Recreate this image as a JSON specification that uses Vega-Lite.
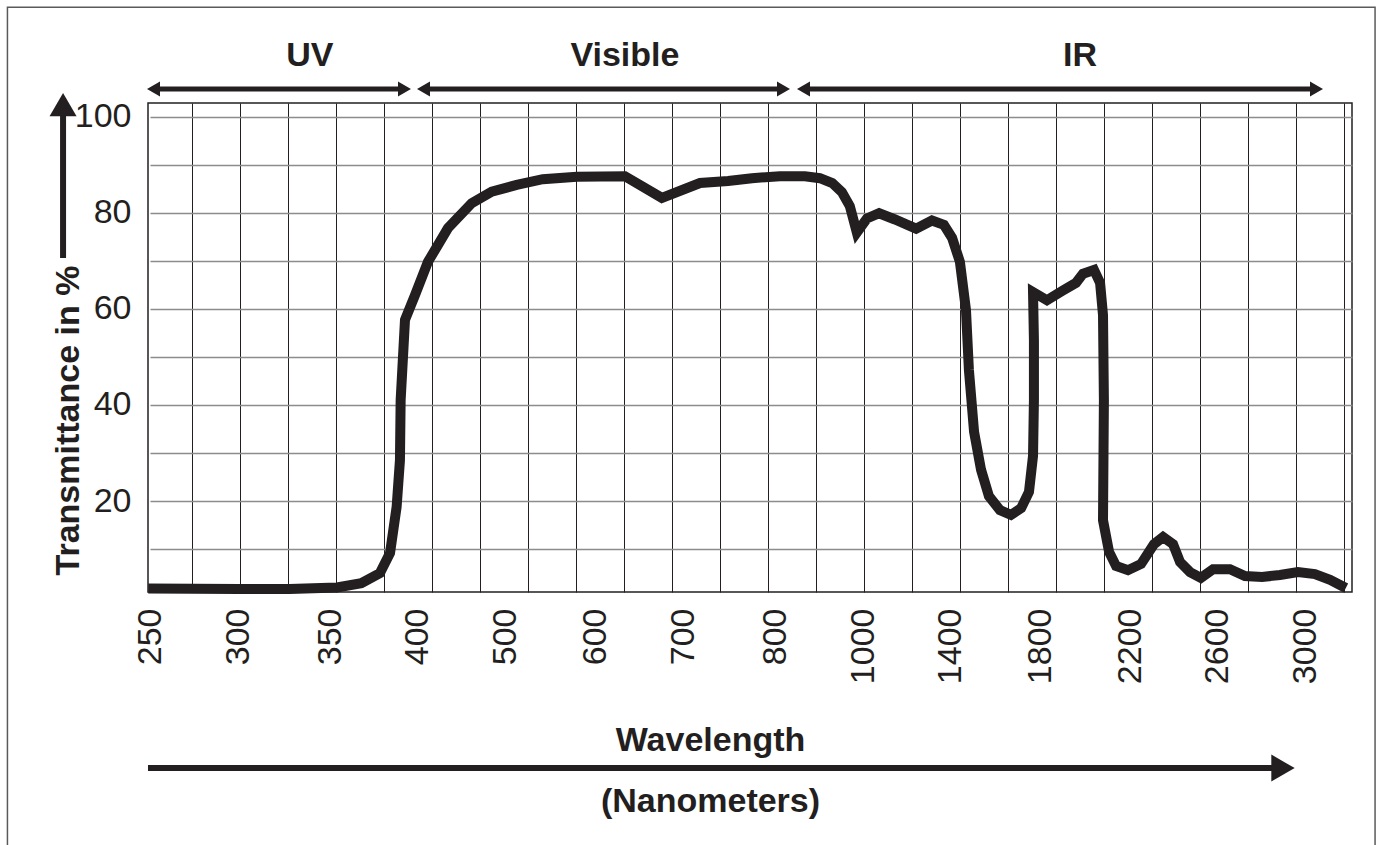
{
  "$schema": "https://vega.github.io/schema/vega-lite/v6.json",
  "width": 1204,
  "height": 489,
  "autosize": {"type": "none"},
  "padding": {"left": 148, "top": 103, "right": 30, "bottom": 253},
  "background": "white",
  "config": {
    "view": {"stroke": "#231f20", "strokeWidth": 1.5},
    "font": "Liberation Sans, Arial, sans-serif",
    "axis": {
      "labelFont": "Liberation Sans, Arial, sans-serif",
      "titleFont": "Liberation Sans, Arial, sans-serif",
      "labelColor": "#231f20",
      "titleColor": "#231f20"
    },
    "text": {"font": "Liberation Sans, Arial, sans-serif"}
  },
  "datasets": {
    "spectrum": [
      {"seq": 1, "wl": 249, "t": 1.8}, {"seq": 2, "wl": 301, "t": 1.7}, {"seq": 3, "wl": 328, "t": 1.7},
      {"seq": 4, "wl": 354, "t": 2.0}, {"seq": 5, "wl": 368, "t": 2.9}, {"seq": 6, "wl": 378.7, "t": 5.0},
      {"seq": 7, "wl": 384.5, "t": 9.2}, {"seq": 8, "wl": 388.3, "t": 18.8}, {"seq": 9, "wl": 390.2, "t": 28.5},
      {"seq": 10, "wl": 390.6, "t": 41.0}, {"seq": 11, "wl": 393.1, "t": 57.7}, {"seq": 12, "wl": 398.9, "t": 62.9},
      {"seq": 13, "wl": 412.5, "t": 69.8}, {"seq": 14, "wl": 435.2, "t": 76.8}, {"seq": 15, "wl": 462.2, "t": 82.0},
      {"seq": 16, "wl": 484.9, "t": 84.4}, {"seq": 17, "wl": 513, "t": 85.8}, {"seq": 18, "wl": 542, "t": 87.0},
      {"seq": 19, "wl": 580, "t": 87.5}, {"seq": 20, "wl": 634, "t": 87.6}, {"seq": 21, "wl": 676, "t": 83.1},
      {"seq": 22, "wl": 718.5, "t": 86.2}, {"seq": 23, "wl": 749, "t": 86.6}, {"seq": 24, "wl": 775, "t": 87.2},
      {"seq": 25, "wl": 811, "t": 87.6}, {"seq": 26, "wl": 868, "t": 87.6}, {"seq": 27, "wl": 902, "t": 87.2},
      {"seq": 28, "wl": 930, "t": 86.2}, {"seq": 29, "wl": 952, "t": 84.3}, {"seq": 30, "wl": 970, "t": 81.4},
      {"seq": 31, "wl": 986, "t": 75.9}, {"seq": 32, "wl": 1018, "t": 78.8}, {"seq": 33, "wl": 1074, "t": 79.9},
      {"seq": 34, "wl": 1147, "t": 78.6}, {"seq": 35, "wl": 1244, "t": 76.7}, {"seq": 36, "wl": 1317, "t": 78.4},
      {"seq": 37, "wl": 1372, "t": 77.5}, {"seq": 38, "wl": 1409, "t": 74.8}, {"seq": 39, "wl": 1444, "t": 69.8},
      {"seq": 40, "wl": 1471, "t": 59.8}, {"seq": 41, "wl": 1484, "t": 47.3}, {"seq": 42, "wl": 1507, "t": 34.4},
      {"seq": 43, "wl": 1538, "t": 26.5}, {"seq": 44, "wl": 1573, "t": 21.0}, {"seq": 45, "wl": 1622, "t": 18.1},
      {"seq": 46, "wl": 1671, "t": 17.1}, {"seq": 47, "wl": 1716, "t": 18.5}, {"seq": 48, "wl": 1751, "t": 21.9},
      {"seq": 49, "wl": 1769, "t": 29.4}, {"seq": 50, "wl": 1773, "t": 41.0}, {"seq": 51, "wl": 1773, "t": 53.5},
      {"seq": 52, "wl": 1769, "t": 63.5}, {"seq": 53, "wl": 1831, "t": 61.8}, {"seq": 54, "wl": 1898, "t": 63.7},
      {"seq": 55, "wl": 1960, "t": 65.4}, {"seq": 56, "wl": 1991, "t": 67.3}, {"seq": 57, "wl": 2040, "t": 68.1},
      {"seq": 58, "wl": 2067, "t": 65.4}, {"seq": 59, "wl": 2080, "t": 58.7}, {"seq": 60, "wl": 2084, "t": 41.0},
      {"seq": 61, "wl": 2080, "t": 16.0}, {"seq": 62, "wl": 2107, "t": 9.4}, {"seq": 63, "wl": 2138, "t": 6.5},
      {"seq": 64, "wl": 2191, "t": 5.6}, {"seq": 65, "wl": 2251, "t": 6.9}, {"seq": 66, "wl": 2310, "t": 11.0},
      {"seq": 67, "wl": 2352, "t": 12.5}, {"seq": 68, "wl": 2398, "t": 11.0}, {"seq": 69, "wl": 2430, "t": 7.3},
      {"seq": 70, "wl": 2476, "t": 5.2}, {"seq": 71, "wl": 2526, "t": 4.0}, {"seq": 72, "wl": 2582, "t": 5.8},
      {"seq": 73, "wl": 2659, "t": 5.8}, {"seq": 74, "wl": 2727, "t": 4.4}, {"seq": 75, "wl": 2805, "t": 4.2},
      {"seq": 76, "wl": 2886, "t": 4.6}, {"seq": 77, "wl": 2968, "t": 5.2}, {"seq": 78, "wl": 3045, "t": 4.8},
      {"seq": 79, "wl": 3114, "t": 3.6}, {"seq": 80, "wl": 3186, "t": 1.9}
    ],
    "regions": [
      {"region": "UV", "from": 252, "to": 392.8, "label_at": 339},
      {"region": "Visible", "from": 407.4, "to": 819.3, "label_at": 634},
      {"region": "IR", "from": 864.8, "to": 3052.3, "label_at": 1978}
    ]
  },
  "layer": [
    {
      "data": {"values": [{}]},
      "mark": {"type": "rule", "opacity": 0},
      "encoding": {
        "x": {
          "datum": 0,
          "type": "quantitative",
          "scale": {"type": "linear", "domain": [-0.9167, 24.1667], "nice": false, "zero": false},
          "axis": {
            "orient": "top",
            "values": [0, 1, 2, 3, 4, 5, 6, 7, 8, 9, 10, 11, 12, 13, 14, 15, 16, 17, 18, 19, 20, 21, 22, 23, 24],
            "grid": true, "gridColor": "#231f20", "gridWidth": 1, "gridOpacity": 1,
            "labels": false, "ticks": false, "domain": false, "title": null
          }
        }
      }
    },
    {
      "layer": [
        {
          "data": {"values": [{}]},
          "mark": {"type": "rect", "fill": null, "stroke": "#5a5a5a", "strokeWidth": 1.5, "clip": false},
          "encoding": {
            "x": {"datum": 169, "type": "quantitative"},
            "x2": {"datum": 3319},
            "y": {"datum": 122.8, "type": "quantitative"},
            "y2": {"datum": -60}
          }
        },
        {
          "data": {"name": "spectrum"},
          "mark": {"type": "line", "color": "#231f20", "strokeWidth": 10, "strokeJoin": "miter", "strokeMiterLimit": 3},
          "encoding": {
            "x": {
              "field": "wl", "type": "quantitative",
              "scale": {"type": "linear", "domain": [250, 300, 350, 400, 500, 600, 700, 800, 1000, 1400, 1800, 2200, 2600, 3000, 3214], "range": [2, 90, 182, 269, 357, 447, 535, 627, 715, 802, 892, 982, 1069, 1157, 1204], "nice": false, "zero": false},
              "axis": {
                "orient": "bottom",
                "values": [250, 300, 350, 400, 500, 600, 700, 800, 1000, 1400, 1800, 2200, 2600, 3000],
                "format": "d",
                "labelAngle": 270, "labelFontSize": 34, "labelPadding": 16, "labelOverlap": false, "labelFlush": false,
                "ticks": false, "domain": false, "grid": false,
                "title": ["Wavelength", "(Nanometers)"],
                "titleFontSize": 34, "titleFontWeight": "bold", "titleLineHeight": 61,
                "titleX": 562, "titleY": 158, "titleAlign": "center", "titleBaseline": "alphabetic", "titleAnchor": null
              }
            },
            "y": {
              "field": "t", "type": "quantitative",
              "scale": {"domain": [1.06, 102.85], "nice": false, "zero": false},
              "axis": {
                "values": [10, 20, 30, 40, 50, 60, 70, 80, 90, 100],
                "labelExpr": "datum.value % 20 === 0 ? datum.label : ''",
                "labelFontSize": 34, "labelPadding": 17,
                "ticks": false, "domain": false,
                "grid": true, "gridColor": "#8c8c8c", "gridWidth": 1.3, "gridOpacity": 1,
                "title": "Transmittance in %",
                "titleFontSize": 34, "titleFontWeight": "bold", "titleAngle": 270,
                "titleX": -70, "titleY": 317, "titleAlign": "center", "titleBaseline": "alphabetic"
              }
            },
            "order": {"field": "seq", "type": "quantitative"}
          }
        },
        {
          "data": {"name": "regions"},
          "mark": {"type": "rule", "color": "#231f20", "strokeWidth": 5},
          "encoding": {
            "x": {"field": "from", "type": "quantitative"},
            "x2": {"field": "to"},
            "y": {"datum": 105.77, "type": "quantitative"}
          }
        },
        {
          "data": {"name": "regions"},
          "mark": {"type": "point", "shape": "triangle-left", "filled": true, "size": 225, "color": "#231f20", "opacity": 1},
          "encoding": {
            "x": {"field": "from", "type": "quantitative"},
            "y": {"datum": 105.77, "type": "quantitative"}
          }
        },
        {
          "data": {"name": "regions"},
          "mark": {"type": "point", "shape": "triangle-right", "filled": true, "size": 225, "color": "#231f20", "opacity": 1},
          "encoding": {
            "x": {"field": "to", "type": "quantitative"},
            "y": {"datum": 105.77, "type": "quantitative"}
          }
        },
        {
          "data": {"name": "regions"},
          "mark": {"type": "text", "fontSize": 34, "fontWeight": "bold", "color": "#231f20", "align": "center", "baseline": "middle"},
          "encoding": {
            "x": {"field": "label_at", "type": "quantitative"},
            "y": {"datum": 112.6, "type": "quantitative"},
            "text": {"field": "region", "type": "nominal"}
          }
        },
        {
          "data": {"values": [{}]},
          "mark": {"type": "rule", "color": "#231f20", "strokeWidth": 6},
          "encoding": {
            "x": {"datum": 248.86, "type": "quantitative"},
            "x2": {"datum": 2880},
            "y": {"datum": -35.6, "type": "quantitative"}
          }
        },
        {
          "data": {"values": [{}]},
          "mark": {"type": "point", "shape": "triangle-right", "filled": true, "size": 729, "color": "#231f20", "opacity": 1},
          "encoding": {
            "x": {"datum": 2900, "type": "quantitative"},
            "y": {"datum": -35.6, "type": "quantitative"}
          }
        },
        {
          "data": {"values": [{}]},
          "mark": {"type": "rule", "color": "#231f20", "strokeWidth": 6},
          "encoding": {
            "x": {"datum": 200.6, "type": "quantitative"},
            "y": {"datum": 70.6, "type": "quantitative"},
            "y2": {"datum": 101}
          }
        },
        {
          "data": {"values": [{}]},
          "mark": {"type": "point", "shape": "triangle-up", "filled": true, "size": 729, "color": "#231f20", "opacity": 1},
          "encoding": {
            "x": {"datum": 200.6, "type": "quantitative"},
            "y": {"datum": 102.5, "type": "quantitative"}
          }
        }
      ]
    }
  ],
  "resolve": {"scale": {"x": "independent"}, "axis": {"x": "independent"}}
}
